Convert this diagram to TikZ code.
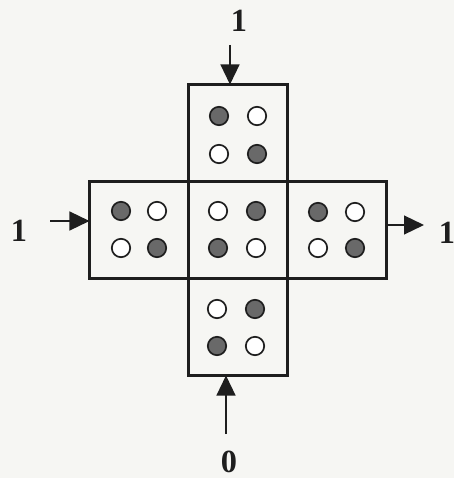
\documentclass[tikz,border=0pt]{standalone}
\usepackage{fontspec}
\setmainfont{Liberation Serif}
\usepackage{tikz}
\usetikzlibrary{calc,positioning,arrows.meta}
\definecolor{paper}{RGB}{246, 246, 243}
\definecolor{ink}{RGB}{30, 30, 30}
\definecolor{bead}{RGB}{105, 105, 105}

\begin{document}
\begin{tikzpicture}[x=0.25mm, y=-0.25mm,
    cell/.style={draw=ink, line width=1.8pt, minimum width=24.75mm, minimum height=24.25mm, inner sep=0pt, outer sep=0pt},
    full/.style={draw=ink, fill=bead, line width=1.2pt},
    empty/.style={draw=ink, fill=white, line width=1.2pt},
    feed/.style={-{Triangle[length=5mm, width=4.7mm]}, line width=1.4pt, ink},
    digit/.style={font=\fontsize{23}{27}\selectfont\bfseries, text=ink}]
    % Canvas
    \fill[paper] (0,0) rectangle (454,478);
    \useasboundingbox (0,0) rectangle (454,478);

    % Cross of cells
    \node[cell] (c) at (238,230) {};
    \node[cell, above=0pt of c] (t) {};
    \node[cell, below=0pt of c] (b) {};
    \node[cell, left=0pt of c] (l) {};
    \node[cell, right=0pt of c] (r) {};

    % Top cell
    \filldraw[full]  ($(t)+(-19,-17)$) circle (2.3mm);
    \filldraw[empty] ($(t)+(19,-17)$)  circle (2.3mm);
    \filldraw[empty] ($(t)+(-19,21)$)  circle (2.3mm);
    \filldraw[full]  ($(t)+(19,21)$)   circle (2.3mm);
    % Left cell
    \filldraw[full]  ($(l)+(-18,-19)$) circle (2.3mm);
    \filldraw[empty] ($(l)+(18,-19)$)  circle (2.3mm);
    \filldraw[empty] ($(l)+(-18,18)$)  circle (2.3mm);
    \filldraw[full]  ($(l)+(18,18)$)   circle (2.3mm);
    % Middle cell
    \filldraw[empty] ($(c)+(-20,-19)$) circle (2.3mm);
    \filldraw[full]  ($(c)+(18,-19)$)  circle (2.3mm);
    \filldraw[full]  ($(c)+(-20,18)$)  circle (2.3mm);
    \filldraw[empty] ($(c)+(18,18)$)   circle (2.3mm);
    % Right cell
    \filldraw[full]  ($(r)+(-19,-18)$) circle (2.3mm);
    \filldraw[empty] ($(r)+(18,-18)$)  circle (2.3mm);
    \filldraw[empty] ($(r)+(-19,18)$)  circle (2.3mm);
    \filldraw[full]  ($(r)+(18,18)$)   circle (2.3mm);
    % Bottom cell
    \filldraw[empty] ($(b)+(-21,-18)$) circle (2.3mm);
    \filldraw[full]  ($(b)+(17,-18)$)  circle (2.3mm);
    \filldraw[full]  ($(b)+(-21,19)$)  circle (2.3mm);
    \filldraw[empty] ($(b)+(17,19)$)   circle (2.3mm);

    % Inputs and outputs
    \node[digit] (inTopLbl) at (239,21) {1};
    \node[digit] (inLeftLbl) at (19,231) {1};
    \node[digit] (outRightLbl) at (447,233) {1};
    \node[digit] (inBotLbl) at (229,462) {0};
    \coordinate (inTop) at (230,45);
    \coordinate (inLeft) at (50,221);
    \coordinate (outRight) at (424,225);
    \coordinate (inBot) at (226,434);
    \draw[feed] (inTop) -- (inTop |- t.north);
    \draw[feed] (inLeft) -- (inLeft -| l.west);
    \draw[feed] (outRight -| r.east) -- (outRight);
    \draw[feed] (inBot) -- (inBot |- b.south);
\end{tikzpicture}
\end{document}
